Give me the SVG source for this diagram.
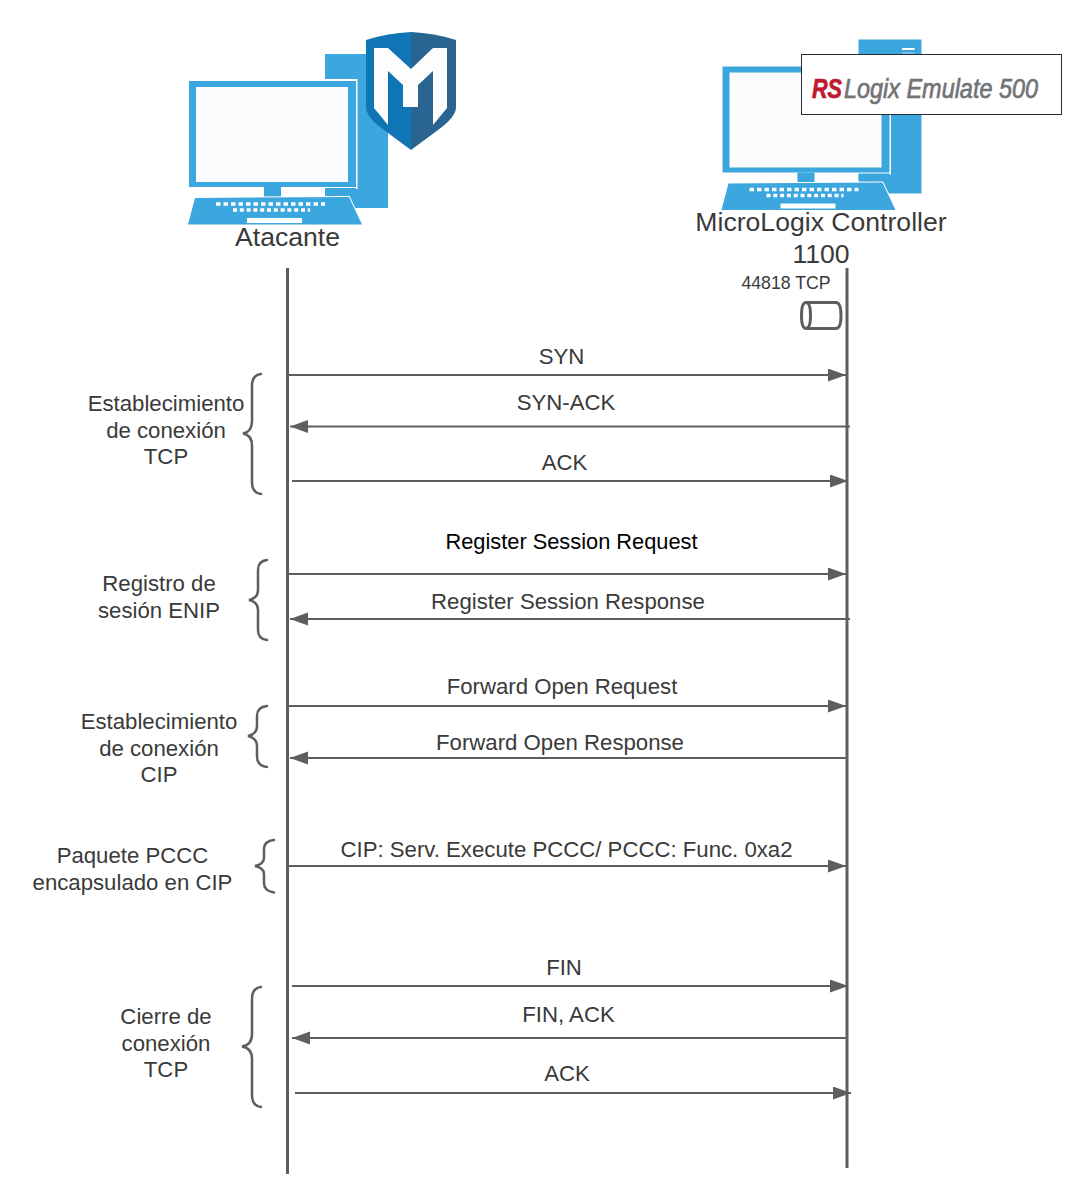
<svg xmlns="http://www.w3.org/2000/svg" width="1081" height="1194" viewBox="0 0 1081 1194">
<style>
text{font-family:"Liberation Sans",Arial,sans-serif;fill:#3a3a3a;font-size:22.200px;text-anchor:middle}
.life{stroke:#5e5e5e;stroke-width:3;fill:none}
.msg{stroke:#5e5e5e;stroke-width:2;fill:none;marker-end:url(#ah)}
.brace{stroke:#5e5e5e;stroke-width:2.500;fill:none;stroke-linecap:round}
.pc{fill:#3ca6df}
.w{fill:#fff}
.scr{fill:#fbfcfe}
</style>
<defs>
<marker id="ah" markerUnits="userSpaceOnUse" markerWidth="20" markerHeight="14" refX="18" refY="6.500" orient="auto"><path d="M0 0L18 6.500L0 13z" fill="#5e5e5e"/></marker>
<g id="pc">
<rect class="pc" x="325" y="54" width="63" height="154"/>
<rect class="w" x="187" y="79" width="170.500" height="110"/>
<rect class="w" x="281" y="188" width="44" height="8"/>
<path d="M189 81H356V187H189z" class="pc"/>
<rect class="scr" x="196" y="87" width="152" height="95"/>
<rect class="pc" x="264" y="187" width="17" height="10"/>
<rect class="pc" x="325" y="188" width="31" height="7"/>
<path class="pc" d="M195 198L349 197L362 224.500H188z" stroke="#fff" stroke-width="2" paint-order="stroke"/>
<rect class="w" x="247" y="218" width="55" height="5"/>
<path d="M216 204H325" stroke="#fff" stroke-width="3.500" stroke-dasharray="4.500 3" fill="none"/>
<path d="M233 210H310" stroke="#fff" stroke-width="3.500" stroke-dasharray="4 2.800" fill="none"/>
</g>
</defs>

<g id="attacker">
<use href="#pc"/>
<g id="shield">
<path d="M366 40Q388 33 411 32V150L384 130Q366 117 366 107z" fill="#0f75b5"/>
<path d="M456 40Q434 33 411 32V150L438 130Q456 117 456 107z" fill="#2a6592"/>
<path d="M374 48H388L411 69L433 48H447V108L433 125V71L418 85V107H403V85L388 71V125L374 108z" fill="#fdfdfe"/>
</g>
<text x="287.500" y="246" style="font-size:26.600px">Atacante</text>
</g>

<g id="plc">
<use href="#pc" x="533.500" y="-14.500"/>
<rect class="w" x="902" y="48" width="12.500" height="2"/>
<rect x="902" y="52.500" width="12.500" height="1" fill="#a8d6f0"/>
<g id="rslogix">
<rect x="801.500" y="54.500" width="260" height="60" fill="#fff" stroke="#282c33" stroke-width="1"/>
<text x="812" y="97.500" textLength="30" lengthAdjust="spacingAndGlyphs" style="font-size:28px;font-weight:bold;font-style:italic;fill:#c0182f;stroke:#c0182f;stroke-width:.7px;text-anchor:start">RS</text>
<text x="844" y="97.500" textLength="194" lengthAdjust="spacingAndGlyphs" style="font-size:28px;font-style:italic;fill:#727376;stroke:#727376;stroke-width:.7px;text-anchor:start">Logix Emulate 500</text>
</g>
<text x="821" y="231" style="font-size:26.600px">MicroLogix Controller</text>
<text x="821" y="263" style="font-size:26.600px">1100</text>
<text x="786" y="289" style="font-size:17.700px">44818 TCP</text>
<g id="port">
<path class="life" d="M806 302.500H836Q841 302.500 841 315.500Q841 328.500 836 328.500H806Q801.500 328.500 801.500 315.500Q801.500 302.500 806 302.500Q810.500 302.500 810.500 315.500Q810.500 328.500 806 328.500"/>
</g>
</g>

<g id="connectors">
<path class="life" d="M287.500 268V1174"/>
<path class="life" d="M847 268V1168"/>
<path class="msg" d="M288 375H846"/>
<path class="msg" d="M850 426.500H290"/>
<path class="msg" d="M292 481H848"/>
<path class="msg" d="M288 574H846"/>
<path class="msg" d="M850 619H290"/>
<path class="msg" d="M288 706H846"/>
<path class="msg" d="M847 758H290"/>
<path class="msg" d="M288 866H846"/>
<path class="msg" d="M292 986H848"/>
<path class="msg" d="M847 1038H292"/>
<path class="msg" d="M295 1093H851"/>
</g>

<g id="brace-tcp-open"><path class="brace" d="M261 374Q252 375 252 386V421Q252 432 243 433.500Q252 435 252 446V482Q252 493 261 494"/>
<text x="166" y="411">Establecimiento</text><text x="166" y="438">de conexión</text><text x="166" y="464">TCP</text></g>
<g id="brace-enip"><path class="brace" d="M267 560Q258 561 258 570V590Q258 598 249 600Q258 602 258 610V630Q258 639 267 640"/>
<text x="159" y="591">Registro de</text><text x="159" y="618">sesión ENIP</text></g>
<g id="brace-cip"><path class="brace" d="M267 706Q257 707 257 716V726Q257 734 248 736Q257 738 257 746V756Q257 766 267 767"/>
<text x="159" y="729">Establecimiento</text><text x="159" y="756">de conexión</text><text x="159" y="782">CIP</text></g>
<g id="brace-pccc"><path class="brace" d="M274 840Q264 841 264 849V858Q264 864 255 866Q264 868 264 874V883Q264 891 274 892.500"/>
<text x="132.500" y="863">Paquete PCCC</text><text x="132.500" y="890">encapsulado en CIP</text></g>
<g id="brace-tcp-close"><path class="brace" d="M261 987Q252 988 252 999V1034Q252 1045 242 1046.500Q252 1048 252 1059V1095Q252 1106 261 1107"/>
<text x="166" y="1024">Cierre de</text><text x="166" y="1051">conexión</text><text x="166" y="1077">TCP</text></g>

<g id="labels">
<text x="561.500" y="364">SYN</text>
<text x="566" y="410">SYN-ACK</text>
<text x="564.500" y="470">ACK</text>
<text x="571.500" y="549" style="fill:#000;font-size:21.800px">Register Session Request</text>
<text x="568" y="609">Register Session Response</text>
<text x="562" y="694">Forward Open Request</text>
<text x="560" y="750">Forward Open Response</text>
<text x="566.500" y="856.500">CIP: Serv. Execute PCCC/ PCCC: Func. 0xa2</text>
<text x="564" y="975">FIN</text>
<text x="568.500" y="1022">FIN, ACK</text>
<text x="567" y="1081">ACK</text>
</g>
</svg>
